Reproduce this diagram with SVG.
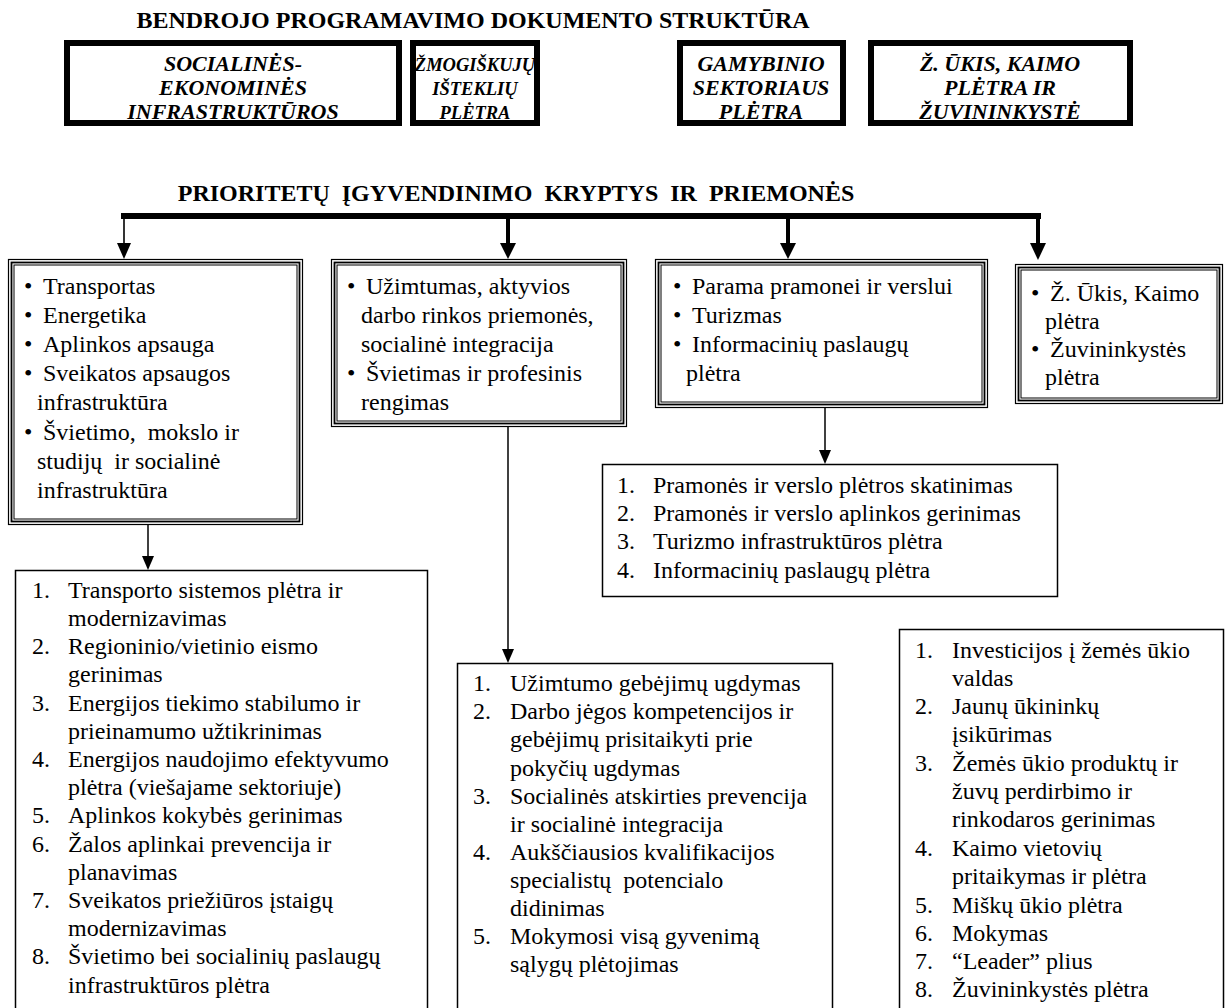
<svg xmlns="http://www.w3.org/2000/svg" width="1230" height="1008" viewBox="0 0 1230 1008" xml:space="preserve">
<style>
text{font-family:"Liberation Serif","Times New Roman",serif;fill:#000;white-space:pre}
.h{font-size:24px;font-weight:bold}
.bi{font-size:22px;font-weight:bold;font-style:italic;text-anchor:middle}
.bis{font-size:18.5px}
.t{font-size:24px}
.num{font-size:24px}
.thick{fill:#fff;stroke:#000;stroke-width:6}
.o1{fill:#fff;stroke:#000;stroke-width:1.2}
.o2{fill:none;stroke:#000;stroke-width:1.8}
.o3{fill:none;stroke:#000;stroke-width:1}
.box{fill:#fff;stroke:#000;stroke-width:1.5}
.cl{stroke:#000;fill:none}
</style>

<text class="h" x="473" y="28" text-anchor="middle">BENDROJO PROGRAMAVIMO DOKUMENTO STRUKTŪRA</text>

<g id="top1"><rect class="thick" x="67" y="43" width="332" height="80"/>
<text class="bi" x="233" y="71">SOCIALINĖS-</text><text class="bi" x="233" y="95">EKONOMINĖS</text><text class="bi" x="233" y="119">INFRASTRUKTŪROS</text></g>
<g id="top2"><rect class="thick" x="413" y="43" width="124" height="80"/>
<text class="bi bis" x="475" y="71">ŽMOGIŠKUJŲ</text><text class="bi bis" x="475" y="95">IŠTEKLIŲ</text><text class="bi bis" x="475" y="119">PLĖTRA</text></g>
<g id="top3"><rect class="thick" x="680" y="43" width="163" height="80"/>
<text class="bi" x="761" y="71">GAMYBINIO</text><text class="bi" x="761" y="95">SEKTORIAUS</text><text class="bi" x="761" y="119">PLĖTRA</text></g>
<g id="top4"><rect class="thick" x="871" y="43" width="259" height="80"/>
<text class="bi" x="1000" y="71">Ž. ŪKIS, KAIMO</text><text class="bi" x="1000" y="95">PLĖTRA IR</text><text class="bi" x="1000" y="119">ŽUVININKYSTĖ</text></g>

<text class="h" x="516" y="201" text-anchor="middle">PRIORITETŲ  ĮGYVENDINIMO  KRYPTYS  IR  PRIEMONĖS</text>

<g id="connectors">
<path class="cl" d="M121,216 H1041" stroke-width="6"/>
<path class="cl" d="M124,216 V245" stroke-width="1.6"/>
<path d="M117,243 L131,243 L124,259 Z"/>
<path class="cl" d="M508,216 V245" stroke-width="4"/>
<path d="M500,243 L516,243 L508,259 Z"/>
<path class="cl" d="M788,216 V245" stroke-width="4"/>
<path d="M780,243 L796,243 L788,259 Z"/>
<path class="cl" d="M1038,216 V245" stroke-width="4"/>
<path d="M1030,243 L1046,243 L1038,260 Z"/>
<path class="cl" d="M148,510 V558" stroke-width="1.5"/>
<path d="M142,556 L154,556 L148,570 Z"/>
<path class="cl" d="M508,427 V651" stroke-width="1.5"/>
<path d="M502,649 L514,649 L508,663 Z"/>
<path class="cl" d="M825,408 V452" stroke-width="1.5"/>
<path d="M819,450 L831,450 L825,464 Z"/>
</g>

<g id="L1"><rect class="o1" x="8.5" y="259.5" width="294" height="265"/><rect class="o2" x="11.5" y="262.5" width="288" height="259"/><rect class="o3" x="14" y="265" width="283" height="254"/>
<text class="t" x="24" y="294">•</text><text class="t" x="43" y="294">Transportas</text>
<text class="t" x="24" y="323">•</text><text class="t" x="43" y="323">Energetika</text>
<text class="t" x="24" y="352">•</text><text class="t" x="43" y="352">Aplinkos apsauga</text>
<text class="t" x="24" y="381">•</text><text class="t" x="43" y="381">Sveikatos apsaugos</text>
<text class="t" x="37" y="410">infrastruktūra</text>
<text class="t" x="24" y="440">•</text><text class="t" x="43" y="440">Švietimo,  mokslo ir</text>
<text class="t" x="37" y="469">studijų  ir socialinė</text>
<text class="t" x="37" y="498">infrastruktūra</text></g>

<g id="L2"><rect class="o1" x="331.5" y="259.5" width="295" height="167"/><rect class="o2" x="334.5" y="262.5" width="289" height="161"/><rect class="o3" x="337" y="265" width="284" height="156"/>
<text class="t" x="347" y="294">•</text><text class="t" x="366" y="294">Užimtumas, aktyvios</text>
<text class="t" x="361" y="323">darbo rinkos priemonės,</text>
<text class="t" x="361" y="352">socialinė integracija</text>
<text class="t" x="347" y="381">•</text><text class="t" x="366" y="381">Švietimas ir profesinis</text>
<text class="t" x="361" y="410">rengimas</text></g>

<g id="L3"><rect class="o1" x="655.5" y="259.5" width="332" height="148"/><rect class="o2" x="658.5" y="262.5" width="326" height="142"/><rect class="o3" x="661" y="265" width="321" height="137"/>
<text class="t" x="673" y="294">•</text><text class="t" x="692" y="294">Parama pramonei ir verslui</text>
<text class="t" x="673" y="323">•</text><text class="t" x="692" y="323">Turizmas</text>
<text class="t" x="673" y="352">•</text><text class="t" x="692" y="352">Informacinių paslaugų</text>
<text class="t" x="686" y="381">plėtra</text></g>

<g id="L4"><rect class="o1" x="1015.5" y="264.5" width="207" height="139"/><rect class="o2" x="1018.5" y="267.5" width="201" height="133"/><rect class="o3" x="1021" y="270" width="196" height="128"/>
<text class="t" x="1031" y="301">•</text><text class="t" x="1050" y="301">Ž. Ūkis, Kaimo</text>
<text class="t" x="1045" y="329">plėtra</text>
<text class="t" x="1031" y="357">•</text><text class="t" x="1050" y="357">Žuvininkystės</text>
<text class="t" x="1045" y="385">plėtra</text></g>

<g id="M1"><rect class="box" x="15.5" y="570.5" width="412" height="445"/>
<text class="num" x="32" y="598">1.</text><text class="t" x="68" y="598">Transporto sistemos plėtra ir</text>
<text class="t" x="68" y="626">modernizavimas</text>
<text class="num" x="32" y="654">2.</text><text class="t" x="68" y="654">Regioninio/vietinio eismo</text>
<text class="t" x="68" y="682">gerinimas</text>
<text class="num" x="32" y="711">3.</text><text class="t" x="68" y="711">Energijos tiekimo stabilumo ir</text>
<text class="t" x="68" y="739">prieinamumo užtikrinimas</text>
<text class="num" x="32" y="767">4.</text><text class="t" x="68" y="767">Energijos naudojimo efektyvumo</text>
<text class="t" x="68" y="795">plėtra (viešajame sektoriuje)</text>
<text class="num" x="32" y="823">5.</text><text class="t" x="68" y="823">Aplinkos kokybės gerinimas</text>
<text class="num" x="32" y="852">6.</text><text class="t" x="68" y="852">Žalos aplinkai prevencija ir</text>
<text class="t" x="68" y="880">planavimas</text>
<text class="num" x="32" y="908">7.</text><text class="t" x="68" y="908">Sveikatos priežiūros įstaigų</text>
<text class="t" x="68" y="936">modernizavimas</text>
<text class="num" x="32" y="964">8.</text><text class="t" x="68" y="964">Švietimo bei socialinių paslaugų</text>
<text class="t" x="68" y="993">infrastruktūros plėtra</text></g>

<g id="M2"><rect class="box" x="457.5" y="663.5" width="375" height="352"/>
<text class="num" x="473" y="691">1.</text><text class="t" x="510" y="691">Užimtumo gebėjimų ugdymas</text>
<text class="num" x="473" y="719">2.</text><text class="t" x="510" y="719">Darbo jėgos kompetencijos ir</text>
<text class="t" x="510" y="747">gebėjimų prisitaikyti prie</text>
<text class="t" x="510" y="776">pokyčių ugdymas</text>
<text class="num" x="473" y="804">3.</text><text class="t" x="510" y="804">Socialinės atskirties prevencija</text>
<text class="t" x="510" y="832">ir socialinė integracija</text>
<text class="num" x="473" y="860">4.</text><text class="t" x="510" y="860">Aukščiausios kvalifikacijos</text>
<text class="t" x="510" y="888">specialistų  potencialo</text>
<text class="t" x="510" y="916">didinimas</text>
<text class="num" x="473" y="944">5.</text><text class="t" x="510" y="944">Mokymosi visą gyvenimą</text>
<text class="t" x="510" y="972">sąlygų plėtojimas</text></g>

<g id="M3"><rect class="box" x="602.5" y="464.5" width="455" height="132"/>
<text class="num" x="617" y="493">1.</text><text class="t" x="653" y="493">Pramonės ir verslo plėtros skatinimas</text>
<text class="num" x="617" y="521">2.</text><text class="t" x="653" y="521">Pramonės ir verslo aplinkos gerinimas</text>
<text class="num" x="617" y="549">3.</text><text class="t" x="653" y="549">Turizmo infrastruktūros plėtra</text>
<text class="num" x="617" y="578">4.</text><text class="t" x="653" y="578">Informacinių paslaugų plėtra</text></g>

<g id="M4"><rect class="box" x="899.5" y="629.5" width="324" height="386"/>
<text class="num" x="915" y="658">1.</text><text class="t" x="952" y="658">Investicijos į žemės ūkio</text>
<text class="t" x="952" y="686">valdas</text>
<text class="num" x="915" y="714">2.</text><text class="t" x="952" y="714">Jaunų ūkininkų</text>
<text class="t" x="952" y="742">įsikūrimas</text>
<text class="num" x="915" y="771">3.</text><text class="t" x="952" y="771">Žemės ūkio produktų ir</text>
<text class="t" x="952" y="799">žuvų perdirbimo ir</text>
<text class="t" x="952" y="827">rinkodaros gerinimas</text>
<text class="num" x="915" y="856">4.</text><text class="t" x="952" y="856">Kaimo vietovių</text>
<text class="t" x="952" y="884">pritaikymas ir plėtra</text>
<text class="num" x="915" y="913">5.</text><text class="t" x="952" y="913">Miškų ūkio plėtra</text>
<text class="num" x="915" y="941">6.</text><text class="t" x="952" y="941">Mokymas</text>
<text class="num" x="915" y="969">7.</text><text class="t" x="952" y="969">“Leader” plius</text>
<text class="num" x="915" y="997">8.</text><text class="t" x="952" y="997">Žuvininkystės plėtra</text></g>
</svg>
